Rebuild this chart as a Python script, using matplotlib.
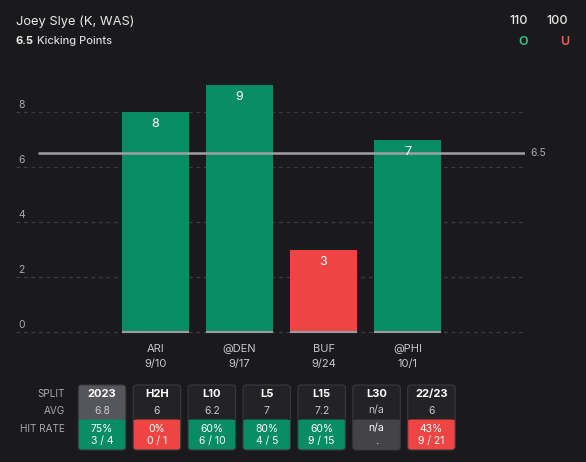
import matplotlib
matplotlib.use("Agg")
import matplotlib.pyplot as plt
from matplotlib.patches import FancyBboxPatch, Rectangle

# ---- data ----
title = "Joey Slye (K, WAS)"
prop_line = 6.5
prop_name = "Kicking Points"
over_odds = "110"
under_odds = "100"
opponents = ["ARI", "@DEN", "BUF", "@PHI"]
dates = ["9/10", "9/17", "9/24", "10/1"]
values = [8, 9, 3, 7]
y_ticks = [0, 2, 4, 6, 8]

splits = ["2023", "H2H", "L10", "L5", "L15", "L30", "22/23"]
avgs = ["6.8", "6", "6.2", "7", "7.2", "n/a", "6"]
hit_pct = ["75%", "0%", "60%", "80%", "60%", "n/a", "43%"]
hit_frac = ["3 / 4", "0 / 1", "6 / 10", "4 / 5", "9 / 15", ".", "9 / 21"]
hit_status = ["over", "under", "over", "over", "over", "none", "under"]

# ---- style ----
BG = "#1a1a1c"
GREEN = "#078c63"
RED = "#ef4444"
GRID = "#3c3c40"
TXT = "#e8e8e8"
MUTED = "#a8a8ad"
plt.rcParams["font.family"] = ["Inter", "DejaVu Sans"]

W, H = 586, 462
fig = plt.figure(figsize=(W / 100, H / 100), dpi=100, facecolor=BG)

# ---- main chart ----
px_unit = 27.5
y0_px = 332
ax_left_px, ax_right_px = 16, 525
ax_top_px, ax_bot_px = 60, 340
ax = fig.add_axes([ax_left_px / W, 1 - ax_bot_px / H,
                   (ax_right_px - ax_left_px) / W, (ax_bot_px - ax_top_px) / H])
ax.set_facecolor(BG)
spacing = 84
first_c = 155.5
ax.set_xlim((ax_left_px - first_c) / spacing, (ax_right_px - first_c) / spacing)
ax.set_ylim(-(ax_bot_px - y0_px) / px_unit, (y0_px - ax_top_px) / px_unit)
for s in ax.spines.values():
    s.set_visible(False)

xs = list(range(len(values)))
for t in y_ticks:
    ax.axhline(t, color=GRID, lw=0.9, ls=(0, (3, 3)), zorder=1)
    ax.annotate(str(t), xy=(0, t), xycoords=("axes fraction", "data"),
                xytext=(1.5, 5), textcoords="offset points", ha="left", va="center",
                color=MUTED, fontsize=7.5)

colors = [GREEN if v > prop_line else RED for v in values]
bw = 67 / spacing
ax.bar(xs, values, width=bw, color=colors, zorder=2)
ax.hlines([0] * len(xs), [x - bw / 2 for x in xs], [x + bw / 2 for x in xs],
          color="#9a9aa0", lw=1.5, zorder=3)
for x, v in zip(xs, values):
    ax.annotate(str(v), xy=(x, v), xytext=(0, -8.8), textcoords="offset points",
                ha="center", va="center", color="white", fontsize=9, zorder=4)

x_line_start = (38 - first_c) / spacing
ax.hlines(prop_line, x_line_start, ax.get_xlim()[1], color="#a0a0a4", lw=1.8, zorder=3)
ax.annotate(f"{prop_line:g}", xy=(1, prop_line), xycoords=("axes fraction", "data"),
            xytext=(4, 0), textcoords="offset points", ha="left", va="center",
            color=MUTED, fontsize=7.5)

ax.set_xticks(xs)
ax.set_xticklabels([f"{o}\n{d}" for o, d in zip(opponents, dates)],
                   color="#c8c8cc", fontsize=8, linespacing=1.55)
ax.tick_params(axis="x", length=0, pad=3)
ax.set_yticks([])

# ---- overlay (header + table) in pixel coords ----
ov = fig.add_axes([0, 0, 1, 1], facecolor="none")
ov.set_xlim(0, W)
ov.set_ylim(H, 0)
ov.axis("off")

ov.text(16, 22, title, color=TXT, fontsize=9.3, ha="left", va="center")
t1 = ov.text(16, 41.5, f"{prop_line:g}", color=TXT, fontsize=8, fontweight="bold",
             ha="left", va="center")
ov.annotate(prop_name, xy=(1, 0.5), xycoords=t1, xytext=(2.5, 0), textcoords="offset points",
            color="#d8d8dc", fontsize=8, fontweight="medium", ha="left", va="center")
ov.text(518.5, 21.5, over_odds, color=TXT, fontsize=9, fontweight="medium", ha="center", va="center")
ov.text(557.5, 21.5, under_odds, color=TXT, fontsize=9, fontweight="medium", ha="center", va="center")
ov.text(523.5, 42, "O", color="#34c88e", fontsize=9, fontweight="semibold", ha="center", va="center")
ov.text(565, 42, "U", color="#f05a5a", fontsize=9, fontweight="semibold", ha="center", va="center")

row_y = [394, 410.5, 428.5]
for lab, yy in zip(["SPLIT", "AVG", "HIT RATE"], row_y):
    ov.text(64.5, yy, lab, color=MUTED, fontsize=7.2, ha="right", va="center")

box_x0 = 78.3
box_w = 47.5
box_step = 54.9
top_y, bot_y, hit_y = 385, 450, 419.5
hit_colors = {"over": GREEN, "under": RED, "none": "#434348"}
r = 3.5
for i, (sp, av, hp, hf, st) in enumerate(zip(splits, avgs, hit_pct, hit_frac, hit_status)):
    x0 = box_x0 + i * box_step
    top_col = "#55555c" if i == 0 else "#232326"
    ov.add_patch(FancyBboxPatch((x0, top_y), box_w, bot_y - top_y,
                                boxstyle=f"round,pad=0,rounding_size={r}",
                                fc=top_col, ec="none", zorder=1))
    hc = hit_colors[st]
    ov.add_patch(FancyBboxPatch((x0, hit_y), box_w, bot_y - hit_y,
                                boxstyle=f"round,pad=0,rounding_size={r}",
                                fc=hc, ec="none", zorder=2))
    ov.add_patch(Rectangle((x0, hit_y), box_w, 8, fc=hc, ec="none", zorder=2))
    ov.add_patch(FancyBboxPatch((x0, top_y), box_w, bot_y - top_y,
                                boxstyle=f"round,pad=0,rounding_size={r}",
                                fc="none", ec="#3a3a3e", lw=0.8, zorder=3))
    cx = x0 + box_w / 2
    ov.text(cx, 394, sp, color="white", fontsize=8, fontweight="bold", ha="center", va="center", zorder=4)
    ov.text(cx, 410.5, av, color="#c8c8cc", fontsize=7.5, ha="center", va="center", zorder=4)
    ov.text(cx, 428.5, hp, color="white", fontsize=7.5, ha="center", va="center", zorder=4)
    ov.text(cx, 441, hf, color="white", fontsize=7.5, ha="center", va="center", zorder=4)

fig.savefig("out.png", dpi=100, facecolor=BG)
